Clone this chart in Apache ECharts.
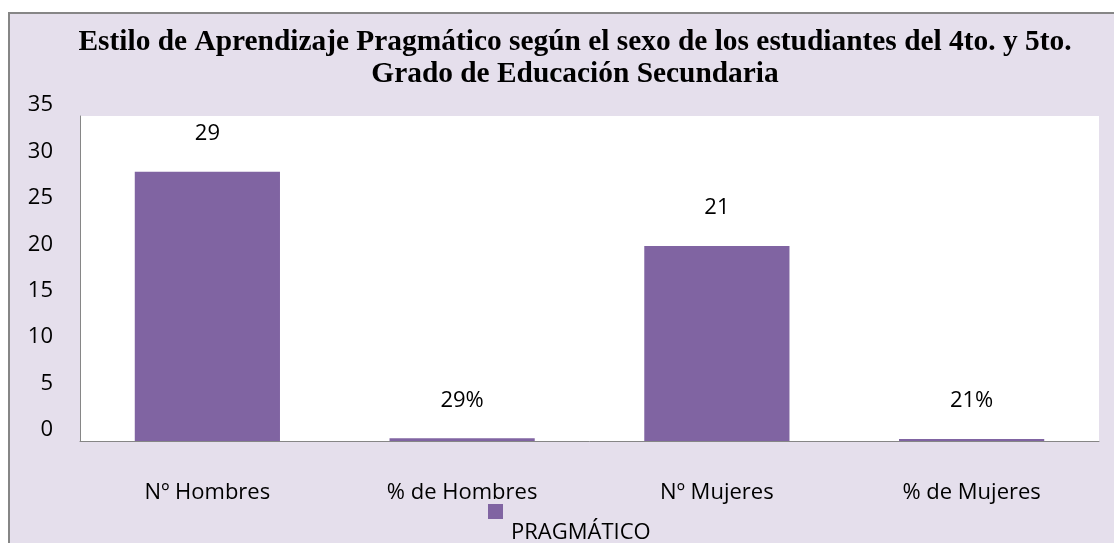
<!DOCTYPE html>
<html>
<head>
<meta charset="utf-8">
<script src="https://cdn.jsdelivr.net/npm/echarts@6/dist/echarts.min.js"></script>
<style>
  html, body { margin: 0; padding: 0; background: #fff; overflow: hidden; }
  #chart { width: 1114px; height: 543px; }
</style>
</head>
<body>
<div id="chart"></div>
<script>
const categories = ['Nº Hombres', '% de Hombres', 'Nº Mujeres', '% de Mujeres']
const values = [29, 0.29, 21, 0.21]
const valueLabels = ['29', '29%', '21', '21%']
const seriesName = 'PRAGMÁTICO'
const titleText = 'Estilo de Aprendizaje Pragmático según el sexo de los estudiantes del 4to. y 5to.\nGrado de Educación Secundaria'
const yMin = 0
const yMax = 35
const yStep = 5

const chart = echarts.init(document.getElementById('chart'))

const labelFont = {
  fontFamily: 'Open Sans',
  fontSize: 22,
  color: '#000'
}

const option = {
  backgroundColor: '#fff',
  animation: false,
  graphic: [
    {
      // chart frame
      type: 'rect',
      z: -10,
      silent: true,
      shape: { x: 9, y: 13, width: 1200, height: 600 },
      style: { fill: '#e5dfec', stroke: '#868686', lineWidth: 2 }
    },
    {
      // title, centred a bit right of the canvas middle
      type: 'text',
      x: 575,
      y: 26,
      silent: true,
      style: {
        text: titleText,
        align: 'center',
        verticalAlign: 'top',
        fontFamily: 'Liberation Serif',
        fontSize: 29.4,
        fontWeight: 'bold',
        lineHeight: 32,
        fill: '#000'
      }
    }
  ],
  legend: {
    left: 483,
    top: 499,
    itemWidth: 15,
    itemHeight: 15,
    icon: 'rect',
    data: [seriesName],
    formatter: (name) => '{a|' + name + '}',
    textStyle: {
      rich: {
        a: Object.assign({}, labelFont, { padding: [43, 0, 0, 3] })
      }
    }
  },
  grid: {
    left: 80,
    right: 15,
    top: 116,
    bottom: 102,
    show: true,
    backgroundColor: '#fff',
    borderWidth: 0
  },
  xAxis: {
    type: 'category',
    data: categories,
    axisLine: { show: true, lineStyle: { color: '#868686', width: 1 } },
    axisTick: { show: false },
    axisLabel: Object.assign({}, labelFont, { margin: 41, interval: 0 })
  },
  yAxis: {
    type: 'value',
    min: yMin,
    max: yMax,
    interval: yStep,
    splitLine: { show: false },
    axisLine: { show: true, lineStyle: { color: '#868686', width: 1 } },
    axisTick: { show: false },
    axisLabel: Object.assign({}, labelFont, { margin: 27, verticalAlign: 'bottom' })
  },
  series: [
    {
      name: seriesName,
      type: 'bar',
      data: values,
      barWidth: '57%',
      itemStyle: { color: '#8064a2' },
      label: Object.assign({}, labelFont, {
        show: true,
        position: 'top',
        distance: 27,
        formatter: (p) => valueLabels[p.dataIndex]
      })
    }
  ]
}

chart.setOption(option)
</script>
</body>
</html>
